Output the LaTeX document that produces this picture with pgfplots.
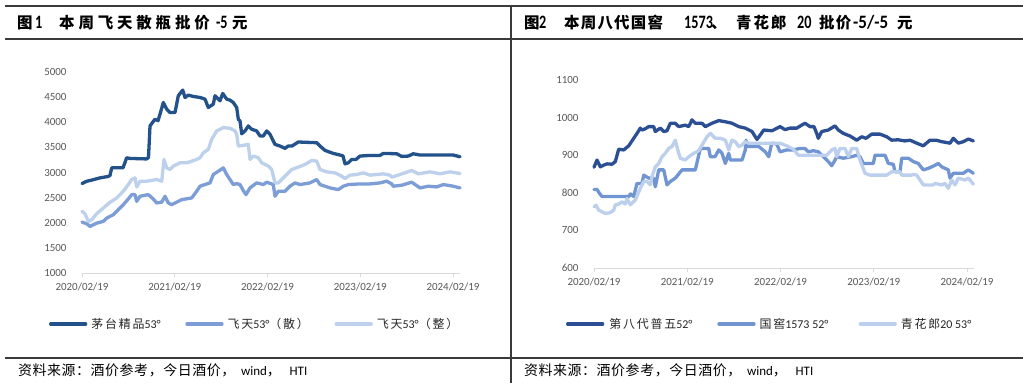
\documentclass[border=0pt]{standalone}
\usepackage{fontspec}
\setmainfont{Carlito}
\newfontfamily\cjk[LetterSpace=4]{Noto Sans CJK SC}
\newfontfamily\cjkl[LetterSpace=15]{Noto Sans CJK SC}
\newfontfamily\cjkta[LetterSpace=25]{Noto Sans CJK SC}
\newfontfamily\cjktb[LetterSpace=8]{Noto Sans CJK SC}
\newfontfamily\cjktc[LetterSpace=13]{Noto Sans CJK SC}
\usepackage{pgfplots}
\pgfplotsset{compat=1.18}
\definecolor{ldark}{HTML}{23528A}
\definecolor{lmid}{HTML}{7C9DD5}
\definecolor{llight}{HTML}{BDD0EC}
\definecolor{rdark}{HTML}{2C4F94}
\definecolor{rmid}{HTML}{7195D2}
\definecolor{rlight}{HTML}{BCCFEC}
\definecolor{labgray}{HTML}{595959}
\definecolor{axgray}{HTML}{D9D9D9}
\definecolor{framec}{HTML}{3A3A3A}
\newcommand{\ta}{\cjkta\bfseries\fontsize{15.5}{16}\selectfont}
\newcommand{\tb}{\cjktb\bfseries\fontsize{15.5}{16}\selectfont}
\newcommand{\tc}{\cjktc\bfseries\fontsize{15.5}{16}\selectfont}
\newcommand{\tn}{\fontsize{19}{20}\selectfont\bfseries}
\pgfplotsset{
  chart/.style={
    scale only axis,
    axis x line*=bottom, axis y line*=left,
    y axis line style={draw=none}, ytick style={draw=none},
    x axis line style={draw=axgray, line width=0.9bp},
    xtick style={draw=axgray, line width=0.9bp},
    tick align=outside, major tick length=4bp,
    tick label style={font=\fontsize{11}{12}\selectfont, color=labgray},
    /pgf/number format/assume math mode=true,
    /pgf/number format/1000 sep={},
    yticklabel style={xshift=-8bp},
    xticklabel style={yshift=-2bp},
    clip=false,
    legend columns=3,
    legend style={draw=none, fill=none, inner sep=0pt, outer sep=0pt, anchor=west,
      nodes={inner sep=0pt, outer sep=0pt}, font=\fontsize{12}{13}\selectfont\color{black!85},
      /tikz/every even column/.append style={column sep=0pt}},
    legend cell align=left,
    legend image code/.code={\draw[##1] (0bp,0bp) -- (35bp,0bp);},
  },
  ser/.style={line width=3.3bp, line join=round, line cap=round},
}
\begin{document}
\begin{tikzpicture}[x=1bp,y=1bp]
\useasboundingbox (0,0) rectangle (1023,383);
\fill[white] (0,0) rectangle (1023,383);
\draw[line width=1.6bp, framec] (5,377) -- (1023,377);
\draw[line width=1.6bp, framec] (5,344) -- (1023,344);
\draw[line width=1.6bp, framec] (5,25) -- (1023,25);
\draw[line width=1.3bp, framec] (511,377) -- (511,0);
\begin{scope}[every node/.style={anchor=base west, inner sep=0pt}]
\node at (17,355) {\ta 图};
\node[xscale=0.75] at (35,355) {\tn 1};
\node at (59,355) {\ta 本周飞天散瓶批价};
\node[xscale=0.75] at (216,355) {\tn -5};
\node at (232,355) {\ta 元};
\node at (524,355) {\tb 图};
\node[xscale=0.75] at (539,355) {\tn 2};
\node at (564,355) {\tb 本周八代国窖};
\node[xscale=0.75] at (684,355) {\tn 1573};
\node at (711,355) {\tb 、};
\node at (736,355) {\tc 青花郎};
\node[xscale=0.75] at (797,355) {\tn 20};
\node at (819,355) {\tb 批价};
\node[xscale=0.9] at (853,355) {\tn -5/-5};
\node at (897,355) {\tb 元};
\end{scope}
\node[anchor=west, inner sep=0pt] at (18,13) {{\cjk\fontsize{14}{15}\selectfont 资料来源：酒价参考，今日酒价，}{\fontsize{13}{14}\selectfont\ \ wind}{\cjk\fontsize{14}{15}\selectfont ，}{\fontsize{13}{14}\selectfont\ \ \ HTI}};
\node[anchor=west, inner sep=0pt] at (524,13) {{\cjk\fontsize{14}{15}\selectfont 资料来源：酒价参考，今日酒价，}{\fontsize{13}{14}\selectfont\ \ wind}{\cjk\fontsize{14}{15}\selectfont ，}{\fontsize{13}{14}\selectfont\ \ \ HTI}};

\begin{axis}[chart, at={(82bp,110bp)}, anchor=south west, width=378bp, height=201bp,
  xmin=82, xmax=460, ymin=1000, ymax=5000,
  xtick={82,174.75,267.5,360.25,453},
  xticklabels={2020/02/19,2021/02/19,2022/02/19,2023/02/19,2024/02/19},
  ytick={1000,1500,...,5000},
  legend style={at={(-0.0873,-0.2537)}}]
\addplot[ser, color=ldark] coordinates {(82,2780) (86.7,2826) (92,2850) (100,2893) (108,2920) (110,2940) (111.7,3093) (120,3093) (123,3093) (126.7,3293) (130,3280) (146.7,3270) (148.5,3300) (150,3927) (155,4060) (158,4030) (160,4160) (163.3,4393) (166.7,4260) (170,4193) (175,4193) (178.3,4527) (182.7,4640) (185,4493) (188.3,4540) (193.3,4513) (200,4493) (205,4460) (208.3,4293) (213.3,4360) (215,4527) (220,4427) (222.7,4573) (226.7,4460) (230,4440) (233.3,4393) (236.7,4293) (238.3,4060) (240,4027) (241.7,3770) (245,3827) (248.3,3927) (251.7,3860) (256.7,3827) (260,3727) (263.3,3727) (266.7,3827) (270,3760) (275,3560) (280,3527) (285,3480) (288.3,3527) (292,3527) (298.3,3607) (316.7,3593) (320,3527) (325,3440) (333.3,3380) (340,3347) (343,3330) (345,3173) (348.3,3193) (351.7,3260) (356,3260) (360,3327) (370,3340) (380,3340) (383.3,3380) (396.7,3373) (401.7,3320) (408.3,3327) (413.3,3373) (420,3347) (453.3,3347) (460,3313)};
\addlegendentry{\makebox[98bp][l]{\hspace*{4bp}{\cjkl 茅台精品}53°}}
\addplot[ser, color=lmid] coordinates {(82,2013) (86.7,1980) (90,1927) (96.7,1993) (103.3,2027) (106.7,2093) (113.3,2160) (118.3,2260) (123.3,2360) (128.3,2473) (131.7,2560) (135,2560) (136.7,2427) (140,2527) (148.3,2560) (153.3,2473) (156.7,2393) (161.7,2410) (165,2527) (168.3,2393) (171.7,2360) (181.7,2460) (191.7,2493) (196.7,2627) (200,2727) (205,2760) (210,2793) (213.3,2960) (220,3047) (223.3,3093) (225,3027) (226.7,2960) (230,2860) (233.3,2760) (236.7,2780) (240,2760) (243.3,2640) (246,2560) (250,2693) (256.7,2793) (263.3,2760) (266.7,2807) (273.3,2760) (275,2527) (278.3,2627) (285,2627) (290,2727) (295,2793) (300,2760) (310,2793) (316.7,2860) (320,2760) (330,2693) (338.3,2660) (343.3,2727) (348.3,2760) (360,2773) (370,2773) (380,2793) (386.7,2827) (391.7,2773) (393.3,2727) (401.7,2747) (411.7,2807) (420,2693) (428.3,2727) (436.7,2713) (443.3,2760) (453.3,2727) (460,2693)};
\addlegendentry{\makebox[111bp][l]{\hspace*{4bp}{\cjkl 飞天}53°{\cjkl （散）}}}
\addplot[ser, color=llight] coordinates {(82,2227) (85,2180) (88.3,2027) (91.7,2060) (96.7,2180) (103.3,2293) (110,2407) (116.7,2493) (123.3,2627) (128.3,2760) (131.7,2860) (135,2893) (136.7,2713) (140,2827) (146.7,2827) (156.7,2860) (161.7,2827) (164,3260) (166.7,3093) (170,3060) (173.3,3127) (180,3193) (186.7,3193) (196.7,3260) (200,3293) (203.3,3393) (208.3,3460) (211.7,3660) (216.7,3827) (223.3,3893) (230,3880) (235,3827) (236.7,3760) (238.3,3527) (243.3,3540) (248.3,3560) (250,3260) (253.3,3327) (258.3,3293) (261.7,3193) (268.3,3127) (271.7,3060) (275,2793) (278.3,2793) (281.7,2860) (286.7,2960) (291.7,3060) (298.3,3107) (305,3160) (311.7,3240) (316.7,3227) (320,3060) (326.7,3013) (335,2993) (341.7,2927) (345,2880) (350,2947) (356.7,2960) (363.3,2993) (370,2947) (376.7,2960) (383.3,2973) (390,2947) (391.7,2907) (400,2960) (411.7,3040) (418.3,2973) (430,3013) (440,2973) (450,3013) (460,2980)};
\addlegendentry{\makebox[100bp][l]{\hspace*{4bp}{\cjkl 飞天}53°{\cjkl （整）}}}
\end{axis}

\begin{axis}[chart, at={(594bp,115bp)}, anchor=south west, width=380bp, height=188bp,
  xmin=594, xmax=974, ymin=600, ymax=1100,
  xtick={594,687.25,780.5,873.75,967},
  xticklabels={2020/02/19,2021/02/19,2022/02/19,2023/02/19,2024/02/19},
  ytick={600,700,...,1100},
  legend style={at={(-0.0737,-0.2979)}}]
\addplot[ser, color=rdark] coordinates {(594,868) (597,887) (600.3,869) (604,874) (607,877) (612,876) (615.3,883) (618.7,916) (623.7,914) (628.7,925) (633.7,945) (637,958) (640.3,972) (642,967) (645,970) (648.7,976) (653.7,976) (655.3,963) (660.3,972) (663.7,963) (667,965) (670.3,985) (675.3,985) (678.7,976) (685.3,980) (688.7,976) (692,994) (695.3,985) (702,985) (705.3,976) (712,985) (718.7,992) (725.3,989) (732,985) (738.7,976) (745.3,972) (752,963) (757,942) (760.3,954) (763.7,967) (772,965) (780,976) (785,968) (790,972) (796.7,972) (801.7,980) (805,985) (810,976) (814,976) (816.7,958) (818.3,945) (821.7,963) (828.3,967) (835,978) (838.3,967) (843.3,958) (850,951) (856.7,940) (861.7,949) (866,945) (871.7,956) (880,956) (886.7,949) (891.7,940) (898,941) (905,938) (910,940) (916.7,932) (923.3,925) (930,940) (936,940) (941.7,936) (950,932) (953.3,945) (958.3,932) (963.3,936) (968.3,943) (973.3,938)};
\addlegendentry{\makebox[113bp][l]{\hspace*{5bp}{\cjkl 第八代普五}52°}}
\addplot[ser, color=rmid] coordinates {(594,809) (597,809) (599.3,799) (602,790) (628.7,790) (630.5,797) (633.7,790) (637,825) (642,825) (643.7,847) (648.7,839) (653.5,839) (655.3,816) (658.7,861) (663.7,861) (667,821) (670.3,830) (675.3,839) (682,861) (695.3,861) (700.3,918) (708.7,918) (710.3,896) (715,896) (718.7,914) (722,905) (725.3,878) (728.7,905) (730.5,887) (742,887) (745.3,914) (746,940) (747.5,923) (752,923) (758.7,923) (765.3,909) (768.7,896) (771.7,932) (776.7,930) (780,909) (786.7,914) (793,914) (800,918) (805,918) (808.3,909) (813.3,912) (818.3,909) (825,892) (830,878) (831.7,872) (835,887) (836.7,896) (843.3,892) (851.7,896) (856.7,900) (860,896) (863.3,878) (873.3,878) (875,900) (885,900) (888.3,878) (893.3,876) (895,856) (900,856) (901.7,892) (908.3,892) (913.3,883) (918.3,878) (923.3,861) (928.3,865) (933.3,871) (938.3,878) (941.7,869) (945,865) (948.3,861) (950,839) (953.3,852) (963.3,852) (968.3,861) (973.3,852)};
\addlegendentry{\makebox[103bp][l]{\hspace*{4bp}{\cjkl 国窖}1573 52°}}
\addplot[ser, color=rlight] coordinates {(594,763) (596,767) (598.7,754) (605.3,745) (610,747) (613.7,754) (615.3,768) (618.7,770) (622,776) (625.3,770) (627,785) (630.3,768) (635.3,781) (640.3,812) (643.7,830) (647,830) (650.3,821) (652,843) (655.3,869) (658.7,878) (662,896) (665.3,905) (668.7,918) (672,923) (675.3,940) (678.7,905) (680.3,892) (685.3,887) (688.7,896) (693.7,905) (698.7,912) (702,927) (707,949) (710.3,958) (715.3,945) (720.3,945) (725.3,940) (728.7,914) (732,940) (735.3,936) (738.7,923) (742,927) (745.3,936) (748.7,932) (772,932) (780,932) (786.7,925) (793.3,916) (798.3,900) (826.7,900) (831.7,914) (835,918) (836.7,896) (840,918) (845,918) (848.3,896) (851.7,918) (856.7,918) (860,887) (865,852) (870,847) (886.7,847) (891.7,856) (900,856) (901.7,847) (911.7,847) (913.3,849) (916.7,847) (920,834) (923.3,821) (933.3,821) (935,825) (941.7,821) (945,825) (948.3,812) (951.7,834) (955,821) (958.3,839) (965,834) (968.3,839) (973.3,823)};
\addlegendentry{\makebox[90bp][l]{\hspace*{4bp}{\cjkl 青花郎}20 53°}}
\end{axis}
\end{tikzpicture}
\end{document}
